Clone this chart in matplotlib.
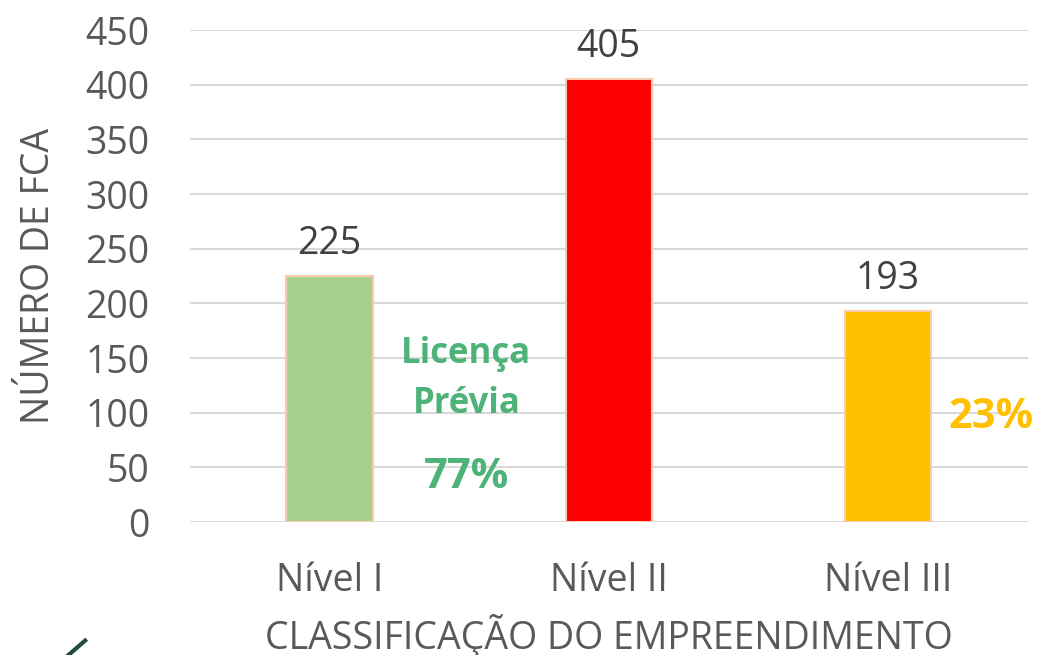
import matplotlib.pyplot as plt
from matplotlib.lines import Line2D

categories = ["Nível I", "Nível II", "Nível III"]
values = [225, 405, 193]
colors = ["#A9D18E", "#FF0000", "#FFC000"]
yticks = [0, 50, 100, 150, 200, 250, 300, 350, 400, 450]

plt.rcParams['font.family'] = ['Open Sans', 'DejaVu Sans']

fig = plt.figure(figsize=(10.38, 6.55), dpi=100)
ax = fig.add_axes([0.183, 0.203, 0.807, 0.751])

x = list(range(len(categories)))
bars = ax.bar(x, values, width=0.31, color=colors, edgecolor="#F8CBAD", linewidth=1.5, zorder=3)
for xi, v in zip(x, values):
    ax.text(xi, v + 12, str(v), ha='center', va='bottom', fontsize=27, color='#404040')

ax.set_xlim(-0.5, 2.5)
ax.set_ylim(0, 450)
ax.set_yticks(yticks)
ax.set_xticks(x)
ax.set_xticklabels(categories)
ax.tick_params(axis='both', length=0, labelsize=27, colors='#595959')
ax.tick_params(axis='x', pad=29)
ax.tick_params(axis='y', pad=29)
ax.grid(axis='y', color='#D9D9D9', linewidth=1.5, zorder=0)
ax.set_axisbelow(True)
for s in ax.spines.values():
    s.set_visible(False)

ax.set_ylabel("NÚMERO DE FCA", fontsize=27, color='#595959', labelpad=20)
ax.set_xlabel("CLASSIFICAÇÃO DO EMPREENDIMENTO", fontsize=27, color='#595959', labelpad=10)

ax.text(0.49, 131, "Licença\nPrévia", ha='center', va='center', fontsize=25,
        fontweight='bold', color='#4DB379', linespacing=1.5)
ax.text(0.49, 41, "77%", ha='center', va='center', fontsize=30,
        fontweight='bold', color='#4DB379')
ax.text(2.37, 96, "23%", ha='center', va='center', fontsize=30,
        fontweight='bold', color='#FFC000')

# pedaço do logo no canto
fig.add_artist(Line2D([0.066, 0.082], [0.0, 0.022], color='#1E4D3A', linewidth=3))

fig.savefig("out.png", dpi=100)
